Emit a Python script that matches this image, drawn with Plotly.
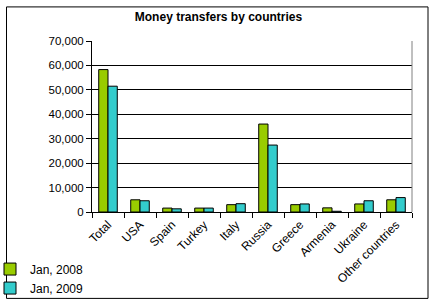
import plotly.graph_objects as go

categories = ["Total", "USA", "Spain", "Turkey", "Italy", "Russia", "Greece", "Armenia", "Ukraine", "Other countries"]
jan2008 = [58300, 5000, 1600, 1600, 3000, 36000, 3000, 1700, 3300, 5000]
jan2009 = [51500, 4600, 1300, 1600, 3400, 27400, 3300, 300, 4600, 5900]
y_ticks = [0, 10000, 20000, 30000, 40000, 50000, 60000, 70000]
y_tick_labels = ["0", "10,000", "20,000", "30,000", "40,000", "50,000", "60,000", "70,000"]

W, H = 437, 307
L, R, T, B = 92, 412, 40.7, 212.3
pw, ph = R - L, B - T

def px(x):
    return (x - L) / pw

def py(y):
    return (B - y) / ph

fig = go.Figure()
fig.add_bar(name="Jan, 2008", x=categories, y=jan2008,
            marker=dict(color="#99CC00", line=dict(color="black", width=1)))
fig.add_bar(name="Jan, 2009", x=categories, y=jan2009,
            marker=dict(color="#33CCCC", line=dict(color="black", width=1)))

fig.update_layout(
    width=W, height=H,
    margin=dict(l=L, r=W - R, t=T, b=H - B, autoexpand=False),
    paper_bgcolor="white", plot_bgcolor="white",
    barmode="group", bargap=0.42, bargroupgap=0,
    font=dict(family="Arial, Liberation Sans", size=11, color="black"),
    title=dict(text="<b>Money transfers by countries</b>", x=0.5, xanchor="center",
               xref="container", y=1 - 17 / H, yref="container", yanchor="middle",
               font=dict(size=12)),
    legend=dict(x=px(-10), y=py(255), xanchor="left", yanchor="top",
                font=dict(size=12), tracegroupgap=0, itemwidth=30,
                bgcolor="rgba(0,0,0,0)"),
    showlegend=True,
)
fig.update_xaxes(showline=True, linecolor="black", linewidth=1, ticks="outside",
                 tickson="boundaries", ticklen=5, tickcolor="black", tickangle=-45,
                 tickfont=dict(size=12), showgrid=False, automargin=False)
fig.update_yaxes(range=[0, 70000], tickvals=y_ticks, ticktext=y_tick_labels,
                 showline=True, linecolor="black", linewidth=1, ticks="outside",
                 ticklen=5, tickcolor="black", showgrid=True, gridcolor="black",
                 gridwidth=1, tickfont=dict(size=11.5), zeroline=False, automargin=False)

# right plot-area border (gray)
fig.add_shape(type="line", xref="paper", yref="paper", x0=1, x1=1, y0=0, y1=1,
              line=dict(color="#808080", width=1))
# outer chart border
fig.add_shape(type="rect", xref="paper", yref="paper",
              x0=px(6.5), x1=px(428), y0=py(299), y1=py(6.5),
              line=dict(color="black", width=1), layer="below")

fig.write_html("out.html")
